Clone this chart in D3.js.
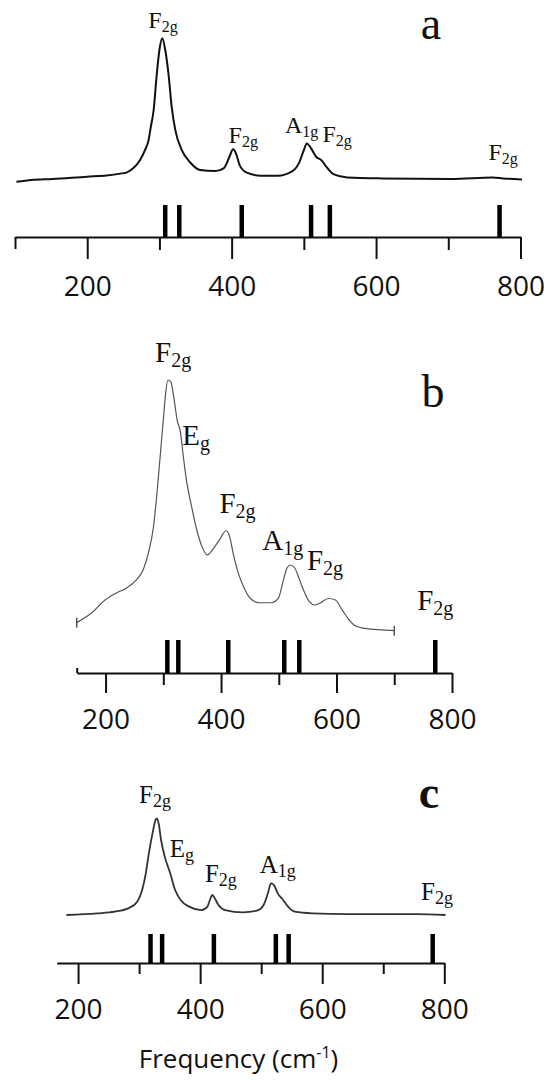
<!DOCTYPE html>
<html>
<head>
<meta charset="utf-8">
<script src="https://cdn.jsdelivr.net/npm/d3@7/dist/d3.min.js"></script>
<style>
  body { margin: 0; background: #fff; }
  svg { display: block; }
</style>
</head>
<body>
<svg id="chart" width="544" height="1080"></svg>
<script>
// spectrum a (frequency cm-1, relative intensity)
const freqA = [102,123,152,200,224,248,255,264,273,280,285,288,292,296,300,304,308,313,317,322,331,343,356,377,389,397,402,406,411,421,440,464,483,493,500,504,510,517,524,531,541,560,608,704,762,776,802]
const intA  = [0,1.2,1.9,3.5,4.2,5.8,6.5,9.5,15,22,29,38,50,73,92,100,92,73,52,36,22,13.2,8.2,7.4,9.3,17.4,22.6,19.8,11.6,6.3,4.2,4.2,7,12.8,22,26.7,23.3,17.4,15.1,10.5,5.3,3,2.3,1.9,3,2.3,1.6]

// spectrum b
const freqB = [150,175,199,217,235,253,265,274,283,289,295,300,304,308,313,318,324,330,334,340,349,358,367,376,385,397,409,415,421,430,439,451,466,487,499,508,514,520,528,535,544,553,562,571,586,598,610,622,631,649,679,700]
const intB  = [3.6,7.3,12.6,15.2,17.2,20.5,24.5,31.1,41.7,55,70.9,84.1,94.7,100,99.3,93.4,84.1,78.8,70.9,60.3,49.7,40.4,33.8,30.5,32.5,36.4,40.1,37.7,31.1,23.2,17.9,13.2,11.5,11.5,13.2,20.5,25.2,26.5,25.2,21.2,15.9,11.9,10.6,11.3,13.2,12.6,8.6,4.6,2.6,1.3,0.7,0.4]

// spectrum c
const freqC = [181,231,260,282,297,305,311,316,322,327,329,332,336,342,351,359,368,382,402,412,416,420,424,430,441,470,493,504,511,516,521,527,535,544,555,584,640,697,754,802]
const intC  = [1,2.7,4.4,7.8,14.7,26.6,43.7,64.2,84.6,98.3,100,94.9,77.8,60.8,43.7,26.6,16.4,9.6,6.1,9.6,16.4,21.5,18.1,11.3,6.1,3.8,5.5,11.3,23.2,33.4,31.7,23.2,17.1,9.6,4.4,2.7,2,2,2,1]

// calculated mode positions (bars on the axis)
const modesA = [308, 327.5, 414, 510, 536, 771]
const modesB = [307, 326, 412.5, 509.5, 535.5, 771]
const modesC = [318.7, 337.7, 422.5, 524, 545, 781]

// mode labels: symbol, subscript, anchor frequency, anchor intensity
const labelsA = [
    {t: 'F', s: '2g', f: 305, i: 107},
    {t: 'F', s: '2g', f: 416, i: 27},
    {t: 'A', s: '1g', f: 497, i: 34},
    {t: 'F', s: '2g', f: 546, i: 27.7},
    {t: 'F', s: '2g', f: 776, i: 15}
]
const labelsB = [
    {t: 'F', s: '2g', f: 317, i: 107},
    {t: 'E', s: 'g',  f: 357, i: 74},
    {t: 'F', s: '2g', f: 428.5, i: 47},
    {t: 'A', s: '1g', f: 507, i: 32.5},
    {t: 'F', s: '2g', f: 580, i: 24.5},
    {t: 'F', s: '2g', f: 771, i: 8.6}
]
const labelsC = [
    {t: 'F', s: '2g', f: 326, i: 115.7},
    {t: 'E', s: 'g',  f: 370, i: 60.4},
    {t: 'F', s: '2g', f: 434, i: 34.8},
    {t: 'A', s: '1g', f: 527, i: 44},
    {t: 'F', s: '2g', f: 788, i: 16.4}
]

const majorTicks = [200, 400, 600, 800]
const minorTicks = [300, 500, 700]

const svg = d3.select('#chart')

const panels = [
    {freq: freqA, inten: intA, modes: modesA, labels: labelsA, letter: 'a',
     xDomain: [100, 800], xRange: [15, 520.5], yRange: [181.7, 38.3],
     axisY: 237, barTop: 205, majorLen: 22, minorLen: 13, pad: 17,
     endTicks: [{v: 100, len: 12}], caps: false,
     stroke: '#111', strokeW: 2, fs: 24, subFs: 16, tickFs: 28,
     letterX: 431, letterY: 39, letterW: 'normal'},
    {freq: freqB, inten: intB, modes: modesB, labels: labelsB, letter: 'b',
     xDomain: [150, 800], xRange: [76.7, 452], yRange: [631.7, 380],
     axisY: 673, barTop: 640, majorLen: 20, minorLen: 12, pad: 16,
     endTicks: [{v: 150, len: -5}], caps: true,
     stroke: '#555', strokeW: 1.2, fs: 29, subFs: 20, tickFs: 28,
     letterX: 433, letterY: 407, letterW: 'normal'},
    {freq: freqC, inten: intC, modes: modesC, labels: labelsC, letter: 'c',
     xDomain: [165, 800], xRange: [56.7, 444.3], yRange: [916, 818.3],
     axisY: 963, barTop: 934, majorLen: 21, minorLen: 11, pad: 15,
     endTicks: [], caps: false,
     stroke: '#333', strokeW: 1.8, fs: 25, subFs: 18, tickFs: 28,
     letterX: 429, letterY: 808, letterW: 'bold'}
]

panels.forEach(drawPanel)

function drawPanel(p){
    const g = svg.append('g')

    const x = d3.scaleLinear().domain(p.xDomain).range(p.xRange)
    const y = d3.scaleLinear().domain([0, 100]).range(p.yRange)

    const pts = p.freq.map((f, k) => [f, p.inten[k]])

    const line = d3.line()
        .x(d => x(d[0]))
        .y(d => y(d[1]))
        .curve(d3.curveMonotoneX)

    g.append('path')
        .datum(pts)
        .attr('d', line)
        .attr('fill', 'none')
        .attr('stroke', p.stroke)
        .attr('stroke-width', p.strokeW)
        .attr('stroke-linejoin', 'round')

    if (p.caps){
        [pts[0], pts[pts.length - 1]].forEach(d => {
            g.append('line')
                .attr('x1', x(d[0])).attr('x2', x(d[0]))
                .attr('y1', y(d[1]) - 5).attr('y2', y(d[1]) + 5)
                .attr('stroke', p.stroke)
                .attr('stroke-width', 1.5)
        })
    }

    // major ticks with labels
    const major = g.append('g')
        .attr('transform', `translate(0, ${p.axisY})`)
        .call(d3.axisBottom(x)
            .tickValues(majorTicks)
            .tickSize(p.majorLen)
            .tickSizeOuter(0)
            .tickPadding(p.pad)
            .tickFormat(d3.format('d')))
    major.select('.domain').attr('stroke', '#111').attr('stroke-width', 2)
    major.selectAll('.tick line').attr('stroke', '#111').attr('stroke-width', 2)
    major.selectAll('.tick text')
        .attr('fill', '#111')
        .style('font-family', '"Open Sans", sans-serif')
        .style('font-size', p.tickFs + 'px')

    // minor ticks
    const minor = g.append('g')
        .attr('transform', `translate(0, ${p.axisY})`)
        .call(d3.axisBottom(x)
            .tickValues(minorTicks)
            .tickSize(p.minorLen)
            .tickFormat(''))
    minor.select('.domain').remove()
    minor.selectAll('.tick line').attr('stroke', '#111').attr('stroke-width', 2)

    p.endTicks.forEach(e => {
        const end = g.append('g')
            .attr('transform', `translate(0, ${p.axisY})`)
            .call(d3.axisBottom(x).tickValues([e.v]).tickSize(e.len).tickFormat(''))
        end.select('.domain').remove()
        end.selectAll('.tick line').attr('stroke', '#111').attr('stroke-width', 2)
    })

    // calculated modes
    g.selectAll('.mode')
        .data(p.modes)
        .enter()
        .append('rect')
            .attr('class', 'mode')
            .attr('x', d => x(d) - 2.25)
            .attr('y', p.barTop)
            .attr('width', 4.5)
            .attr('height', p.axisY - p.barTop)
            .attr('fill', '#000')

    // mode labels
    const lab = g.selectAll('.lab')
        .data(p.labels)
        .enter()
        .append('text')
            .attr('class', 'lab')
            .attr('x', d => x(d.f))
            .attr('y', d => y(d.i))
            .attr('text-anchor', 'middle')
            .style('font-family', '"Liberation Serif", "Times New Roman", serif')
            .style('font-size', p.fs + 'px')
            .attr('fill', '#111')
    lab.append('tspan').text(d => d.t)
    lab.append('tspan')
        .attr('dy', p.fs * 0.17)
        .style('font-size', p.subFs + 'px')
        .text(d => d.s)

    g.append('text')
        .attr('x', p.letterX)
        .attr('y', p.letterY)
        .attr('text-anchor', 'middle')
        .style('font-family', '"Liberation Serif", "Times New Roman", serif')
        .style('font-size', '46px')
        .style('font-weight', p.letterW)
        .attr('fill', '#111')
        .text(p.letter)
}

const title = svg.append('text')
    .attr('x', 238.5)
    .attr('y', 1068)
    .attr('text-anchor', 'middle')
    .style('font-family', '"Open Sans", sans-serif')
    .style('font-size', '26px')
    .attr('fill', '#111')
title.append('tspan').text('Frequency (cm')
title.append('tspan').attr('dy', -10).style('font-size', '16px').text('-1')
title.append('tspan').attr('dy', 10).text(')')
</script>
</body>
</html>
